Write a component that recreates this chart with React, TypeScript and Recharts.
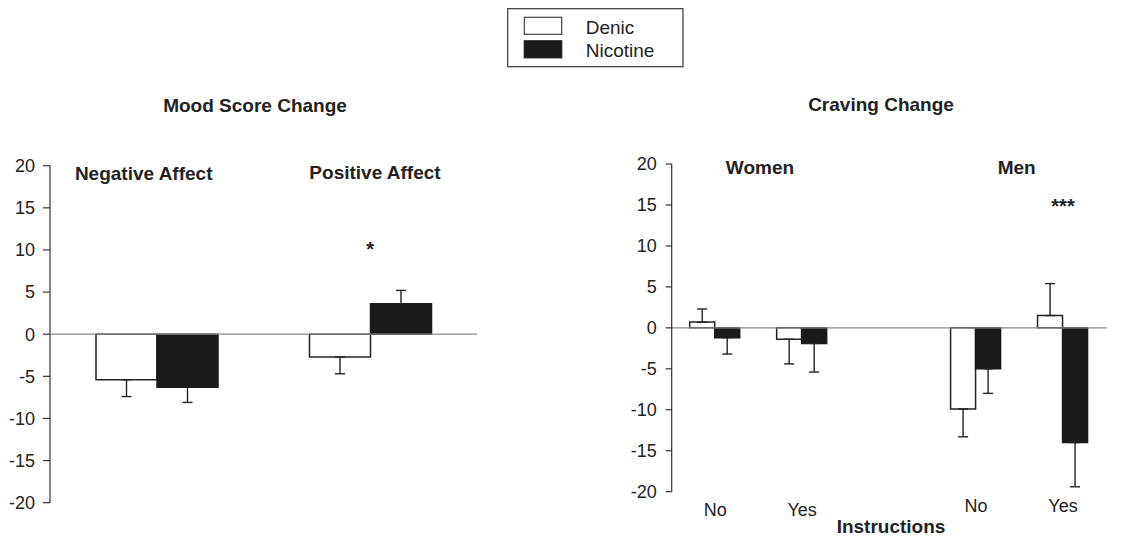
import React from 'react';
import { BarChart, Bar, XAxis, YAxis, ReferenceLine, ReferenceDot, ErrorBar } from 'recharts';

const FONT = '"Liberation Sans", Arial, sans-serif';

const seriesNames = ['Denic', 'Nicotine'];
const seriesFills = ['#ffffff', '#1a1a1a'];

const yTicks = [20, 15, 10, 5, 0, -5, -10, -15, -20];

// Mood Score Change
const moodCategories = ['Negative Affect', 'Positive Affect'];
const moodDenic = [-5.4, -2.7];
const moodDenicErr = [2.0, 2.0];
const moodNicotine = [-6.3, 3.6];
const moodNicotineErr = [1.8, 1.6];

// Craving Change (third slot is the empty gap between women and men)
const cravingKeys = ['women-no', 'women-yes', 'gap', 'men-no', 'men-yes'];
const cravingTickLabels = ['No', 'Yes', '', 'No', 'Yes'];
const cravingDenic = [0.7, -1.4, null, -9.9, 1.5];
const cravingDenicErr = [1.6, 3.0, null, 3.4, 3.9];
const cravingNicotine = [-1.2, -1.9, null, -5.0, -14.0];
const cravingNicotineErr = [2.0, 3.5, null, 3.0, 5.4];

// error bars only go away from zero: [below, above]
const oneSided = (v: number | null, e: number | null) => {
    if (v == null || e == null) return undefined;
    return v < 0 ? [e, 0] : [0, e];
};

const moodData = moodCategories.map((name, i) => ({
    name,
    denic: moodDenic[i],
    denicErr: oneSided(moodDenic[i], moodDenicErr[i]),
    nicotine: moodNicotine[i],
    nicotineErr: oneSided(moodNicotine[i], moodNicotineErr[i]),
}));

const cravingData = cravingKeys.map((key, i) => ({
    key,
    denic: cravingDenic[i] ?? undefined,
    denicErr: oneSided(cravingDenic[i], cravingDenicErr[i]),
    nicotine: cravingNicotine[i] ?? undefined,
    nicotineErr: oneSided(cravingNicotine[i], cravingNicotineErr[i]),
}));

const starLabel = (text: string) => (props: any) => {
    const { viewBox } = props;
    const cx = viewBox.x + viewBox.width / 2;
    const cy = viewBox.y + viewBox.height / 2;
    return (
        <text x={cx} y={cy + 11} textAnchor="middle" fontSize={20} fontWeight="bold" fill="#222" fontFamily={FONT}>
            {text}
        </text>
    );
};

// the men's No/Yes labels sit a little higher in the original
const CravingTick = (props: any) => {
    const { x, y, payload } = props;
    const idx = cravingKeys.indexOf(payload.value);
    const lift = idx >= 3 ? 4 : 0;
    return (
        <text x={x} y={y - lift} dy="0.71em" textAnchor="middle" fontSize={18} fill="#222" fontFamily={FONT}>
            {cravingTickLabels[idx]}
        </text>
    );
};

const axisProps = {
    domain: [-20, 20] as [number, number],
    ticks: yTicks,
    interval: 0 as const,
    axisLine: { stroke: '#333', strokeWidth: 1.2 },
    tickLine: { stroke: '#333', strokeWidth: 1.2 },
    tick: { fill: '#222', fontSize: 18, fontFamily: FONT },
};

const bold = { fontFamily: FONT, fontWeight: 'bold' as const, fontSize: 19, fill: '#222' };

export default function App() {
    return (
        <div style={{ position: 'absolute', left: 0, top: 0, width: 1137, height: 537, background: '#fff' }}>
            <div style={{ position: 'absolute', left: 0, top: 0 }}>
                <BarChart
                    width={500}
                    height={537}
                    data={moodData}
                    margin={{ top: 165.7, right: 23, bottom: 34.3, left: 0 }}
                    barGap={0}
                    barSize={61}
                >
                    <XAxis dataKey="name" hide />
                    <YAxis {...axisProps} width={50} tickSize={7} tickMargin={8} />
                    <ReferenceLine y={0} stroke="#888" strokeWidth={1.3} />
                    <Bar dataKey="denic" fill={seriesFills[0]} stroke="#222" strokeWidth={1.5} isAnimationActive={false}>
                        <ErrorBar dataKey="denicErr" direction="y" width={5} stroke="#222" strokeWidth={1.4} />
                    </Bar>
                    <Bar dataKey="nicotine" fill={seriesFills[1]} stroke="#1a1a1a" strokeWidth={1.5} isAnimationActive={false}>
                        <ErrorBar dataKey="nicotineErr" direction="y" width={5} stroke="#222" strokeWidth={1.4} />
                    </Bar>
                    <ReferenceDot x="Positive Affect" y={10.6} r={0} stroke="none" fill="none" label={starLabel('*')} />
                </BarChart>
            </div>

            <div style={{ position: 'absolute', left: 590, top: 0 }}>
                <BarChart
                    width={547}
                    height={537}
                    data={cravingData}
                    margin={{ top: 164, right: 30.5, bottom: 15.3, left: 0 }}
                    barGap={0}
                    barSize={25}
                >
                    <XAxis
                        dataKey="key"
                        height={30}
                        interval={0}
                        axisLine={false}
                        tickLine={false}
                        tickSize={0}
                        tickMargin={12}
                        tick={<CravingTick />}
                    />
                    <YAxis {...axisProps} width={81.7} tickSize={6} tickMargin={9} />
                    <ReferenceLine y={0} stroke="#888" strokeWidth={1.3} />
                    <Bar dataKey="denic" fill={seriesFills[0]} stroke="#222" strokeWidth={1.5} isAnimationActive={false}>
                        <ErrorBar dataKey="denicErr" direction="y" width={5} stroke="#222" strokeWidth={1.4} />
                    </Bar>
                    <Bar dataKey="nicotine" fill={seriesFills[1]} stroke="#1a1a1a" strokeWidth={1.5} isAnimationActive={false}>
                        <ErrorBar dataKey="nicotineErr" direction="y" width={5} stroke="#222" strokeWidth={1.4} />
                    </Bar>
                    <ReferenceDot x="men-yes" y={15.4} r={0} stroke="none" fill="none" label={starLabel('***')} />
                </BarChart>
            </div>

            <svg width={1137} height={537} style={{ position: 'absolute', left: 0, top: 0, pointerEvents: 'none' }}>
                {/* legend */}
                <rect x={507.7} y={8.7} width={175.3} height={58} fill="none" stroke="#444" strokeWidth={1.3} />
                {seriesNames.map((name, i) => (
                    <g key={name}>
                        <rect
                            x={524.3}
                            y={17.3 + i * 23.5}
                            width={37.4}
                            height={17}
                            fill={seriesFills[i]}
                            stroke={i === 0 ? '#444' : seriesFills[i]}
                            strokeWidth={1.2}
                        />
                        <text x={585.7} y={27 + i * 23} dominantBaseline="central" fontFamily={FONT} fontSize={19} fill="#222">
                            {name}
                        </text>
                    </g>
                ))}

                <text x={255} y={105} textAnchor="middle" dominantBaseline="central" {...bold}>Mood Score Change</text>
                <text x={881} y={104} textAnchor="middle" dominantBaseline="central" {...bold}>Craving Change</text>

                <text x={143.7} y={173} textAnchor="middle" dominantBaseline="central" {...bold}>Negative Affect</text>
                <text x={375} y={172} textAnchor="middle" dominantBaseline="central" {...bold}>Positive Affect</text>
                <text x={760} y={167} textAnchor="middle" dominantBaseline="central" {...bold}>Women</text>
                <text x={1016.7} y={167} textAnchor="middle" dominantBaseline="central" {...bold}>Men</text>
                <text x={891} y={526} textAnchor="middle" dominantBaseline="central" {...bold}>Instructions</text>
            </svg>
        </div>
    );
}
